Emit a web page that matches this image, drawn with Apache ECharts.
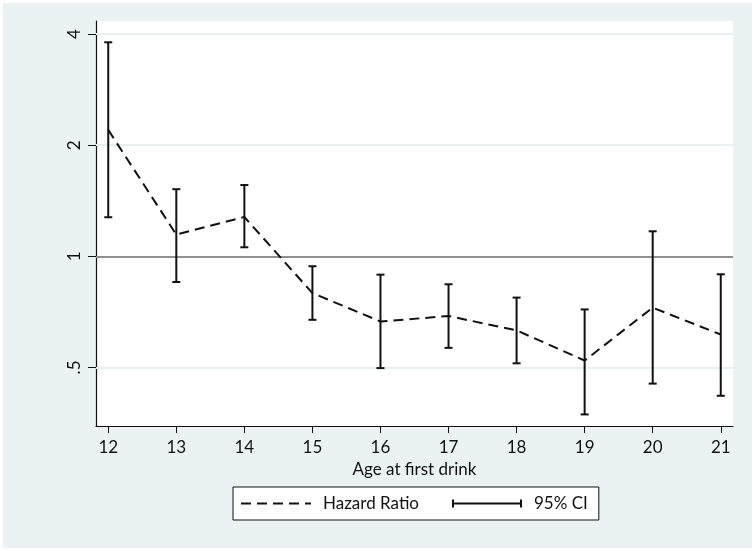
<!DOCTYPE html>
<html>
<head>
<meta charset="utf-8">
<script src="https://cdn.jsdelivr.net/npm/echarts@6/dist/echarts.min.js"></script>
<style>
html,body{margin:0;padding:0;background:#fff;}
#c{width:755px;height:551px;}
</style>
</head>
<body>
<div id="c"></div>
<script>
// Data
const ages = [12, 13, 14, 15, 16, 17, 18, 19, 20, 21];
const hazardRatio = [2.20, 1.145, 1.278, 0.795, 0.666, 0.689, 0.630, 0.522, 0.726, 0.614];
const ciLow = [1.276, 0.852, 1.058, 0.673, 0.498, 0.565, 0.513, 0.373, 0.452, 0.419];
const ciHigh = [3.80, 1.52, 1.56, 0.94, 0.892, 0.840, 0.773, 0.718, 1.169, 0.894];
const yTicks = [0.5, 1, 2, 4];
const xTicks = [12, 13, 14, 15, 16, 17, 18, 19, 20, 21];
const gridLineValues = [0.5, 2, 4];
const refValue = 1;

const FONT = 'Lato';
const FS = 17;
const chart = echarts.init(document.getElementById('c'), null, {renderer: 'canvas'});

const hrData = ages.map((a, i) => [a, hazardRatio[i]]);
const ciData = ages.map((a, i) => [a, ciLow[i], ciHigh[i]]);

const option = {
  backgroundColor: '#ffffff',
  animation: false,
  textStyle: {fontFamily: FONT},
  graphic: [{
    type: 'rect', z: -10, silent: true,
    shape: {x: 3, y: 3, width: 749, height: 545},
    style: {fill: '#eaf2f3'}
  }],
  grid: {
    left: 96, right: 22, top: 21, bottom: 125,
    show: true, backgroundColor: '#ffffff', borderWidth: 0
  },
  xAxis: {
    type: 'value', min: 11.82, max: 21.18,
    name: 'Age at first drink', nameLocation: 'middle', nameGap: 30,
    nameTextStyle: {color: '#111', fontSize: FS, fontFamily: FONT},
    axisLine: {show: true, onZero: false, lineStyle: {color: '#111', width: 1.2}},
    axisTick: {show: true, customValues: xTicks, length: 7, lineStyle: {color: '#111'}},
    axisLabel: {customValues: xTicks, color: '#111', fontSize: FS, margin: 13, fontFamily: FONT},
    splitLine: {show: false}
  },
  yAxis: {
    type: 'log', logBase: 2, min: 0.347, max: 4.34,
    axisLine: {show: true, onZero: false, lineStyle: {color: '#111', width: 1.2}},
    axisTick: {show: true, customValues: yTicks, length: 8, lineStyle: {color: '#111'}},
    axisLabel: {
      customValues: yTicks, rotate: 90, color: '#111', fontSize: FS, margin: 13, fontFamily: FONT,
      formatter: v => {
        const r = Math.round(v * 100) / 100;
        return r === 0.5 ? '.5' : String(r);
      }
    },
    splitLine: {show: false}
  },
  legend: {
    left: 233, top: 487,
    orient: 'horizontal',
    backgroundColor: '#ffffff',
    borderColor: '#111', borderWidth: 1,
    padding: [8, 11, 8, 7],
    itemWidth: 70, itemHeight: 8, itemGap: 33,
    textStyle: {color: '#111', fontSize: FS, fontFamily: FONT, padding: [0, 0, 0, 7]},
    data: [
      {name: 'Hazard Ratio', itemStyle: {opacity: 0}},
      {name: '95% CI', icon: 'path://M0,0h2v8h-2zM0,3h70v2h-70zM68,0h2v8h-2z', itemStyle: {color: '#111'}}
    ]
  },
  series: [
    {
      name: 'Hazard Ratio', type: 'line', data: hrData,
      symbol: 'none', showSymbol: false, z: 3,
      lineStyle: {color: '#111', width: 2, type: [10, 6]},
      itemStyle: {color: '#111'},
      markLine: {
        silent: true, symbol: 'none', animation: false,
        label: {show: false},
        data: gridLineValues.map(v => ({yAxis: v, lineStyle: {color: '#e8f0f2', width: 2, type: 'solid'}}))
          .concat([{yAxis: refValue, lineStyle: {color: '#909090', width: 2, type: 'solid'}}]),
        z: 1
      }
    },
    {
      name: '95% CI', type: 'custom', data: ciData, z: 4,
      itemStyle: {color: '#111'},
      encode: {x: 0, y: [1, 2]},
      renderItem: (params, api) => {
        const x = api.value(0);
        const lo = api.coord([x, api.value(1)]);
        const hi = api.coord([x, api.value(2)]);
        const hw = 4;
        const style = {stroke: '#111', lineWidth: 2, fill: null};
        return {
          type: 'group',
          children: [
            {type: 'line', shape: {x1: lo[0], y1: lo[1], x2: hi[0], y2: hi[1]}, style},
            {type: 'line', shape: {x1: lo[0] - hw, y1: lo[1], x2: lo[0] + hw, y2: lo[1]}, style},
            {type: 'line', shape: {x1: hi[0] - hw, y1: hi[1], x2: hi[0] + hw, y2: hi[1]}, style}
          ]
        };
      }
    }
  ]
};
chart.setOption(option);
</script>
</body>
</html>
